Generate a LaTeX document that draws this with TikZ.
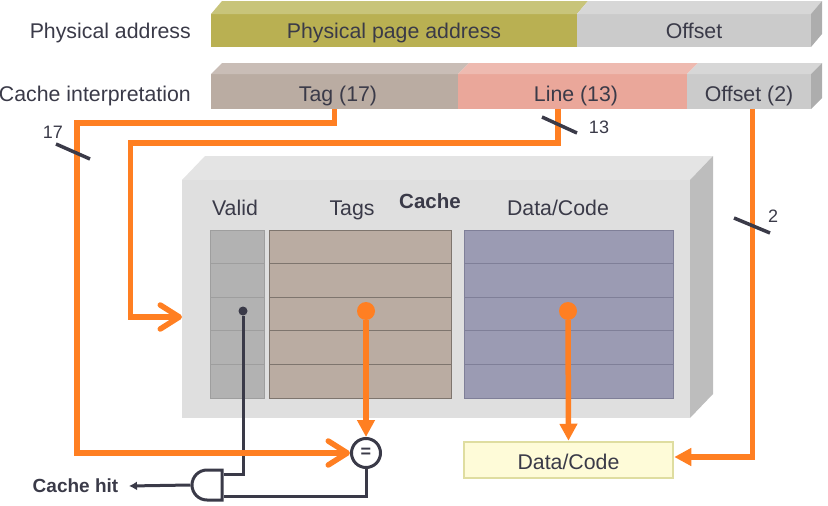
\documentclass[tikz,border=0pt]{standalone}
\usepackage{fontspec}
\setmainfont{Liberation Sans}
\usetikzlibrary{matrix,arrows.meta,shapes.misc}
\definecolor{ink}{HTML}{3A3A48}
\definecolor{wire}{HTML}{FF7F22}
\definecolor{olive}{HTML}{B9B052}
\definecolor{olivetop}{HTML}{C8C47A}
\definecolor{silver}{HTML}{CBCBCB}
\definecolor{silvertop}{HTML}{D7D7D7}
\definecolor{silverside}{HTML}{ADADAD}
\definecolor{tan}{HTML}{BAACA2}
\definecolor{tantop}{HTML}{C9BDB6}
\definecolor{salmon}{HTML}{EAA79A}
\definecolor{salmontop}{HTML}{EEBAB0}
\definecolor{slate}{HTML}{9B9BB3}
\definecolor{slateline}{HTML}{7F7F98}
\definecolor{cream}{HTML}{FEFBD8}
\definecolor{creamline}{HTML}{DFDDA0}
\tikzset{
	txt/.style={text=ink,font=\fontsize{21.3}{25}\selectfont,inner sep=0pt,text height=15pt,text depth=0pt},
	numtxt/.style={text=ink,font=\fontsize{18}{22}\selectfont,inner sep=0pt},
	bar/.style={txt,minimum height=#1,outer sep=0pt},
	cellcol/.style n args={3}{matrix of nodes,nodes in empty cells,row sep=-1pt,inner sep=0pt,
		nodes={draw=#3,fill=#2,line width=1pt,minimum width=#1,minimum height=33.6pt,inner sep=0pt,outer sep=0pt}},
	orangewire/.style={draw=wire,line width=5.5pt},
	openhead/.style={-{Straight Barb[length=19pt,width=24pt,line width=5.5pt,round]}},
	fullhead/.style={-{Triangle[length=17pt,width=17pt]}},
	darkwire/.style={draw=ink,line width=3pt},
	wiretick/.style={draw=ink,line width=3.5pt},
}
\begin{document}
\begin{tikzpicture}[x=1pt,y=-1pt]
	\useasboundingbox (0,0) rectangle (828,506);

	\node[bar=33pt,fill=olive,minimum width=366pt] (page) at (394,30.5) {Physical page address};
	\node[bar=33pt,fill=silver,minimum width=234pt] (page offs) at (694,30.5) {Offset};
	\node[bar=35pt,fill=tan,minimum width=247pt] (tag) at (334.5,91.5) {};
	\node[bar=35pt,fill=salmon,minimum width=229pt] (line) at (572.5,91.5) {};
	\node[bar=35pt,fill=silver,minimum width=124pt,text height=20pt] (offs) at (749,91.5) {Offset (2)};
	\node[txt] (tag text) at (338,94) {Tag (17)};
	\node[txt] (line text) at (576,94) {Line (13)};
	\node[txt,anchor=east] (phys name) at (191,31) {Physical address};
	\node[txt,anchor=east] (cache name) at (191,94) {Cache interpretation};

	\fill[olivetop] (page.north west) -- ++(11,-13) -- ++(366,0) -- (page.north east) -- cycle;
	\fill[silvertop] (page offs.north west) -- ++(11,-13) -- ++(234,0) -- (page offs.north east) -- cycle;
	\fill[silverside] (page offs.north east) -- ++(11,-13) -- ++(0,33) -- (page offs.south east) -- cycle;
	\fill[tantop] (tag.north west) -- ++(11,-11) -- ++(247,0) -- (tag.north east) -- cycle;
	\fill[salmontop] (line.north west) -- ++(11,-11) -- ++(229,0) -- (line.north east) -- cycle;
	\fill[silvertop] (offs.north west) -- ++(11,-11) -- ++(124,0) -- (offs.north east) -- cycle;
	\fill[silverside] (offs.north east) -- ++(11,-11) -- ++(0,35) -- (offs.south east) -- cycle;

	\node[fill=black!12.5,minimum width=508pt,minimum height=238pt,inner sep=0pt,outer sep=0pt] (cache) at (436,299) {};
	\fill[black!10.5] (cache.north west) -- ++(23,-24) -- ++(508,0) -- (cache.north east) -- cycle;
	\fill[black!26] (cache.north east) -- ++(23,-24) -- ++(0,238) -- (cache.south east) -- cycle;

	\node[txt,font=\fontsize{20.5}{25}\selectfont\bfseries] (cache title) at (430,201) {Cache};
	\node[txt] (valid name) at (235,208) {Valid};
	\node[txt] (tags name) at (352,208) {Tags};
	\node[txt] (data name) at (558,208) {Data/Code};

	\matrix (valid) [cellcol={54pt}{black!30}{black!38}] at (237,314) {
		\\ \\ \\ \\ \\
	};
	\matrix (tags) [cellcol={182pt}{tan}{tan!68!black}] at (360,314) {
		\\ \\ \\ \\ \\
	};
	\matrix (data) [cellcol={209pt}{slate}{slateline}] at (568.5,314) {
		\\ \\ \\ \\ \\
	};

	\node[circle,fill=ink,minimum size=9pt,inner sep=0pt] (valid dot) at (243,311) {};
	\node[circle,fill=wire,minimum size=18pt,inner sep=0pt] (tags dot) at (366,311) {};
	\node[circle,fill=wire,minimum size=18pt,inner sep=0pt] (data dot) at (568,311) {};
	\node[circle,draw=ink,line width=3pt,fill=white,minimum size=29pt,inner sep=0pt,text=ink,font=\fontsize{18}{20}\selectfont\bfseries] (eq) at (366,453) {=};
	\node[draw=ink,line width=3pt,rounded rectangle,rounded rectangle right arc=none,minimum width=30pt,minimum height=30pt,inner sep=0pt] (gate) at (207,485) {};
	\node[draw=creamline,fill=cream,line width=2.5pt,minimum width=209pt,minimum height=36pt,txt,text height=19pt] (out) at (568.5,460) {Data/Code};
	\node[text=ink,font=\fontsize{19}{23}\selectfont\bfseries,inner sep=0pt] (hit) at (75.5,486) {Cache hit};
	\coordinate (hit end) at (129,486);

	\draw[darkwire] (valid dot) |- ([yshift=11pt]gate.east);
	\draw[darkwire] (eq) |- ([yshift=-11pt]gate.east);
	\draw[darkwire,-{Latex[length=8pt,width=9pt]}] (gate.west) -- (hit end);

	\draw[orangewire,openhead] (tag.south) |- (77,123) |- (eq.west);
	\draw[orangewire,openhead] ([xshift=-14.5pt]line.south) |- (130.5,143) |- ([yshift=-18pt]cache.west);
	\draw[orangewire,fullhead] ([xshift=3.5pt]offs.south) |- ([yshift=3pt]out.east);
	\draw[orangewire,fullhead] (tags dot) -- (eq.north);
	\draw[orangewire,fullhead] (data dot) -- (out.north);

	\draw[wiretick] (56,144) -- (90,159);
	\node[numtxt] (tag width) at (53,132) {17};
	\draw[wiretick] (542,117) -- (577,133);
	\node[numtxt] (line width) at (599,127) {13};
	\draw[wiretick] (734,218) -- (770,233);
	\node[numtxt] (offs width) at (773,216) {2};
\end{tikzpicture}
\end{document}
